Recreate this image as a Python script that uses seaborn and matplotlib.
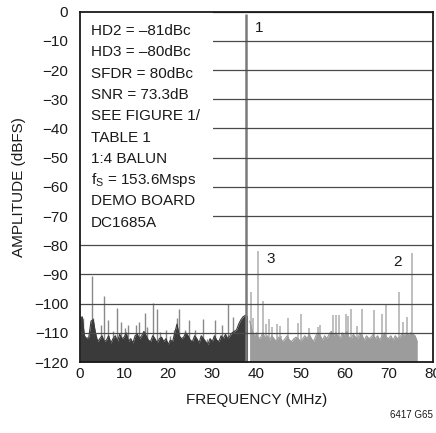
import numpy as np
import matplotlib
matplotlib.use("Agg")
import matplotlib.pyplot as plt
from matplotlib.patches import Rectangle
import seaborn as sns

# === Data ===
fund_f = 37.6
fund_db = -0.8

# noise floor, dark part (0 .. 38 MHz, every 0.5 MHz)
noise_left_db = [
    -105.0, -104.5, -111.0, -112.0, -111.5, -106.0, -105.5, -110.0, -113.0, -112.0,
    -111.0, -113.0, -112.5, -111.0, -113.5, -112.0, -111.0, -113.0, -110.5, -112.0,
    -111.5, -110.0, -113.0, -112.0, -113.5, -111.0, -110.5, -112.0, -111.0, -109.5,
    -111.0, -112.5, -113.0, -111.0, -112.0, -113.5, -112.0, -111.5, -113.0, -112.0,
    -114.0, -112.5, -113.0, -110.0, -107.0, -111.0, -112.0, -111.5, -110.0, -111.0,
    -112.5, -113.0, -111.0, -112.0, -113.5, -111.0, -112.0, -113.0, -114.0, -112.0,
    -113.0, -111.0, -112.5, -113.0, -111.0, -112.0, -110.5, -112.0, -111.0, -110.0,
    -109.5, -109.0, -107.0, -105.5, -104.5, -104.0, -104.5,
]
# noise floor, light part (38.5 .. 76.5 MHz, every 0.5 MHz)
noise_right_db = [
    -106.0, -109.0, -111.0, -110.0, -112.0, -111.5, -110.0, -112.0, -111.0, -112.5,
    -111.0, -112.0, -113.0, -111.5, -112.0, -113.0, -112.0, -111.0, -112.5, -113.0,
    -112.0, -111.5, -112.0, -113.0, -112.0, -111.0, -112.0, -110.5, -112.0, -113.0,
    -111.0, -110.0, -111.0, -112.5, -111.0, -112.0, -110.5, -109.5, -111.0, -110.0,
    -111.0, -112.0, -110.0, -111.0, -109.5, -111.5, -112.0, -110.5, -111.5, -112.0,
    -110.0, -111.0, -112.5, -111.0, -112.0, -111.5, -110.5, -112.0, -111.0, -112.5,
    -111.0, -110.0, -111.5, -112.0, -111.0, -112.5, -111.0, -112.0, -111.5, -110.5,
    -111.0, -110.0, -110.5, -110.0, -110.5, -111.0, -113.0,
]

left_spur_f = [0.6, 2.65, 2.9, 4.7, 5.5, 6.4, 7.4, 8.3, 9.2, 10.2, 10.9, 12.7, 13.3,
               14.7, 15.2, 16.5, 17.5, 18.2, 19.4, 20.4, 21.3, 22.1, 22.4, 23.9, 24.8,
               26.0, 27.8, 28.8, 30.6, 32.3, 33.5, 34.6]
left_spur_db = [-104.8, -90.5, -105.0, -107.2, -97.5, -105.7, -109.3, -101.5, -106.3,
                -108.5, -107.4, -107.4, -106.3, -103.2, -108.0, -99.8, -102.0, -109.8,
                -109.0, -111.0, -109.0, -104.8, -101.7, -109.0, -105.7, -109.0, -105.2,
                -112.0, -105.5, -107.2, -100.2, -104.6]

right_spur_f = [38.7, 39.2, 40.3, 41.6, 42.1, 42.9, 43.5, 44.6, 45.3, 45.5, 47.2, 49.4,
                50.2, 52.0, 54.0, 54.4, 57.4, 58.0, 58.7, 60.3, 60.8, 61.5, 62.8, 64.0,
                66.7, 68.6, 69.5, 72.3, 73.2, 74.2, 75.2]
right_spur_db = [-96.0, -105.0, -81.9, -99.1, -107.0, -105.3, -108.0, -107.0, -107.8,
                 -111.0, -105.0, -106.8, -103.7, -108.5, -108.0, -107.2, -104.0, -104.0,
                 -103.9, -103.4, -104.3, -102.0, -107.7, -102.0, -102.2, -103.6, -100.2,
                 -96.1, -106.3, -104.6, -82.6]

box_lines = [
    "HD2 = \u201381dBc",
    "HD3 = \u201380dBc",
    "SFDR = 80dBc",
    "SNR = 73.3dB",
    "SEE FIGURE 1/",
    "TABLE 1",
    "1:4 BALUN",
    r"f$_\mathregular{S}$ = 153.6Msps",
    "DEMO BOARD",
    "DC1685A",
]
x_ticks = list(range(0, 81, 10))
y_ticks = list(range(-120, 1, 10))

freq_left = np.arange(len(noise_left_db)) * 0.5
freq_right = 38.5 + np.arange(len(noise_right_db)) * 0.5

# === Style ===
sns.set_style("white")
plt.rcParams["font.family"] = ["Liberation Sans", "DejaVu Sans"]
plt.rcParams["font.size"] = 11
plt.rcParams["mathtext.fontset"] = "custom"
plt.rcParams["mathtext.rm"] = "Liberation Sans"

DARK = "#3a3a3a"
LIGHT = "#9c9c9c"
TXT = "#1a1a1a"

fig = plt.figure(figsize=(4.36, 4.33), dpi=100)
ax = fig.add_axes([80 / 436, 1 - 362 / 433, 352.7 / 436, 350.3 / 433])

# noise floor fills
ax.fill_between(freq_left, -120, noise_left_db, color=DARK, lw=0, zorder=2)
ax.fill_between(freq_right, -120, noise_right_db, color=LIGHT, lw=0, zorder=2)
sns.lineplot(x=freq_left, y=noise_left_db, color=DARK, lw=0.8, ax=ax, zorder=2)
sns.lineplot(x=freq_right, y=noise_right_db, color=LIGHT, lw=0.8, ax=ax, zorder=2)

# spurs and harmonics (same colour as the floor, translucent so thin lines look lighter)
ax.vlines(left_spur_f, -120, left_spur_db, color=DARK, alpha=0.6, lw=1.0, zorder=2)
ax.vlines(right_spur_f, -120, right_spur_db, color=LIGHT, alpha=0.7, lw=1.3, zorder=2)

# fundamental
ax.vlines([fund_f], -120, [fund_db], color="#7a7a7a", lw=1.8, zorder=2.2)

ax.set_xlim(0, 80)
ax.set_ylim(-120, 0)
ax.set_xticks(x_ticks)
ax.set_yticks(y_ticks)
ax.set_axisbelow(False)
ax.grid(axis="y", color="#4a4a4a", lw=0.9)
ax.grid(axis="x", visible=False)
ax.tick_params(length=0, labelsize=11, colors=TXT)
ax.tick_params(axis="y", pad=8.5)
ax.tick_params(axis="x", pad=3.5)

for sp in ax.spines.values():
    sp.set_color("#1a1a1a")
    sp.set_linewidth(1.3)
    sp.set_zorder(5)

# white box behind the test conditions
ax.add_patch(Rectangle((0, -78), 30.2, 78, facecolor="white", edgecolor="none", zorder=3))
for i, line in enumerate(box_lines):
    ax.text(2.4, -6.6 - 7.3 * i, line, ha="left", va="center", fontsize=11,
            color=TXT, zorder=4)

ax.text(40.6, -5.6, "1", ha="center", va="center", fontsize=11, color=TXT, zorder=4)
ax.text(43.2, -84.8, "3", ha="center", va="center", fontsize=11, color=TXT, zorder=4)
ax.text(72.0, -85.8, "2", ha="center", va="center", fontsize=11, color=TXT, zorder=4)

ax.set_xlabel("FREQUENCY (MHz)", fontsize=11, color=TXT)
ax.set_ylabel("AMPLITUDE (dBFS)", fontsize=11, color=TXT)
ax.xaxis.set_label_coords(0.5, -0.0885)
ax.yaxis.set_label_coords(-0.152, 0.5)

fig.text(433 / 436, 1 - 414.5 / 433, "6417 G65", ha="right", va="center",
         fontsize=7, color=TXT)

fig.savefig("out.png", dpi=100)
